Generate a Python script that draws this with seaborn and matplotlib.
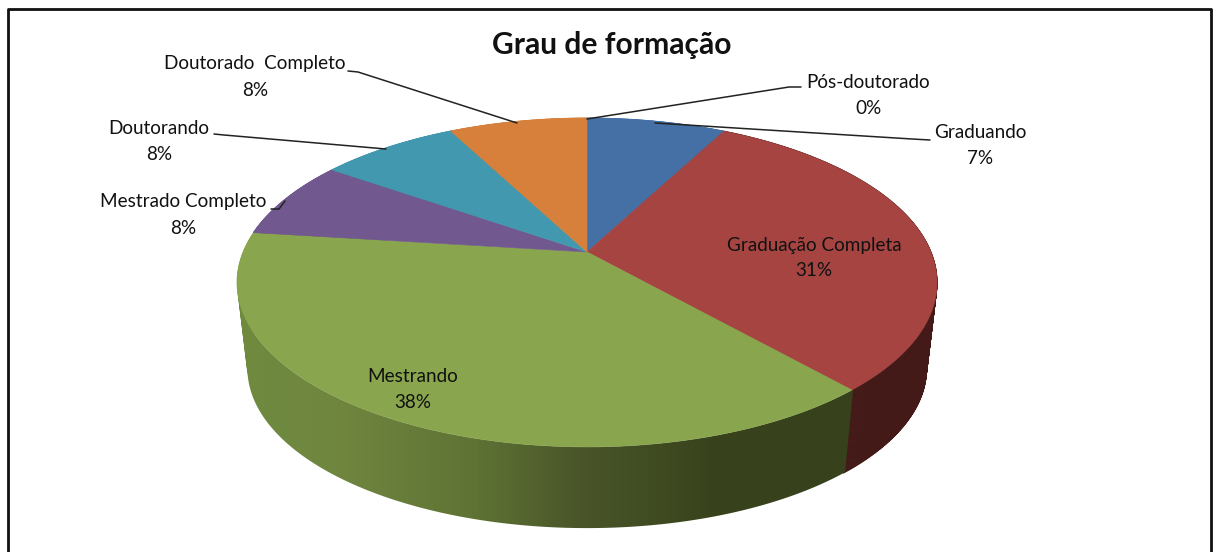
import numpy as np
import seaborn as sns
import matplotlib
matplotlib.use("Agg")
import matplotlib.pyplot as plt
from matplotlib.collections import PolyCollection
from matplotlib.colors import LinearSegmentedColormap
from matplotlib.patches import PathPatch, Polygon
from matplotlib.path import Path

# | Data |---------------------------------------------------------------------------------------------------------------|
categories = ["Graduando", "Graduação Completa", "Mestrando", "Mestrado Completo",
              "Doutorando", "Doutorado  Completo", "Pós-doutorado"]
values = [7.7, 30.8, 38.5, 7.7, 7.7, 7.6, 0.0]
percent_labels = ["7%", "31%", "38%", "8%", "8%", "8%", "0%"]
title = "Grau de formação"

colors = ["#4570A5", "#A64442", "#89A54E", "#71588F", "#4198AF", "#D6803B", "#4570A5"]
# side wall colour of the two slices seen from the front
side_red = "#431A18"
side_green = [(0.0, "#6F8A40"), (0.16, "#70863F"), (0.38, "#5F7335"), (0.55, "#4A5629"),
              (0.78, "#37421C"), (1.0, "#37421C")]

# label centres in pixels
label_xy = [(980, 133), (814, 245), (413, 377), (183, 202), (159, 129), (255, 64), (868, 82)]
leaders = [[(930, 140), (912, 139), (655, 123)],
           None,
           None,
           [(271, 209), (279, 209), (285, 201)],
           [(214, 134), (224, 135), (386, 149)],
           [(348, 71), (358, 72), (517, 123)],
           [(801, 87), (789, 87), (587, 119)]]

# | Geometry of the tilted pie, pixels |--------------------------------------------------------------------------------|
cx, cy = 587, 252
persp = 0.1854
scale_x, scale_y = 344, 158.8
wall_shrink, wall_drop = 0.97, 87


def project(x, y, shrink=1.0, drop=0.0):
    den = 1 + persp * y
    return cx + shrink * scale_x * x / den, cy + drop - shrink * scale_y * y / den


def arc(theta1, theta2, shrink=1.0, drop=0.0, step=0.25):
    t = np.radians(np.arange(theta1, theta2 + step, step))
    return np.column_stack(project(np.cos(t), np.sin(t), shrink, drop))


def wall_quads(wedge, step=0.25):
    top = arc(wedge.theta1, wedge.theta2, step=step)
    low = arc(wedge.theta1, wedge.theta2, wall_shrink, wall_drop, step=step)
    return np.stack([top[:-1], top[1:], low[1:], low[:-1]], axis=1)


def same_winding(quad):
    x, y = quad[:, 0], quad[:, 1]
    area = np.sum(x * np.roll(y, -1) - np.roll(x, -1) * y)
    return quad if area > 0 else quad[::-1]


sns.set_theme(style="white")
plt.rcParams["font.family"] = ["Lato", "DejaVu Sans"]

fig = plt.figure(figsize=(12.19, 5.52), dpi=100)
ax = fig.add_axes([0, 0, 1, 1])
wedges, _ = ax.pie(values, colors=colors, startangle=90, counterclock=False)

green_map = LinearSegmentedColormap.from_list("side_green", side_green)

# walls first, the top covers what is behind
for i, wedge in enumerate(wedges):
    if values[i] == 0:
        continue
    if categories[i] == "Mestrando":
        shape = Path.make_compound_path(*[Path(np.vstack([q, q[0]]), closed=True)
                                          for q in map(same_winding, wall_quads(wedge, step=0.5))])
        shade = ax.imshow(np.linspace(0, 1, 620)[None, :], cmap=green_map, aspect="auto",
                          extent=(237, 857, 552, 0), zorder=2)
        shade.set_clip_path(PathPatch(shape, transform=ax.transData))
    else:
        face = side_red if categories[i] == "Graduação Completa" else colors[i]
        ax.add_collection(PolyCollection(wall_quads(wedge), facecolors=face, edgecolors=face,
                                         linewidths=0.6, zorder=2))

for i, wedge in enumerate(wedges):
    wedge.set_visible(False)
    if values[i] == 0:
        continue
    outline = np.vstack([[cx, cy], arc(wedge.theta1, wedge.theta2)])
    ax.add_patch(Polygon(outline, closed=True, facecolor=colors[i], edgecolor=colors[i], linewidth=0.4, zorder=3))

ax.set_aspect("auto")
ax.set_xlim(0, 1219)
ax.set_ylim(552, 0)
ax.axis("off")

for name, pct, (x, y), line in zip(categories, percent_labels, label_xy, leaders):
    ax.text(x, y, name, ha="center", va="center", fontsize=13.6, color="#111111", zorder=5)
    ax.text(x, y + 26, pct, ha="center", va="center", fontsize=13.6, color="#111111", zorder=5)
    if line is not None:
        ax.plot(*zip(*line), color="#222222", lw=1.1, zorder=4)

ax.text(612, 45, title, ha="center", va="center", fontsize=21.6, fontweight="bold", color="#111111")

# chart frame, cut off at the bottom of the picture
ax.plot([8, 8, 1211, 1211], [552, 9, 9, 552], color="#111111", lw=2, zorder=6)

fig.savefig("out.png", dpi=100)
